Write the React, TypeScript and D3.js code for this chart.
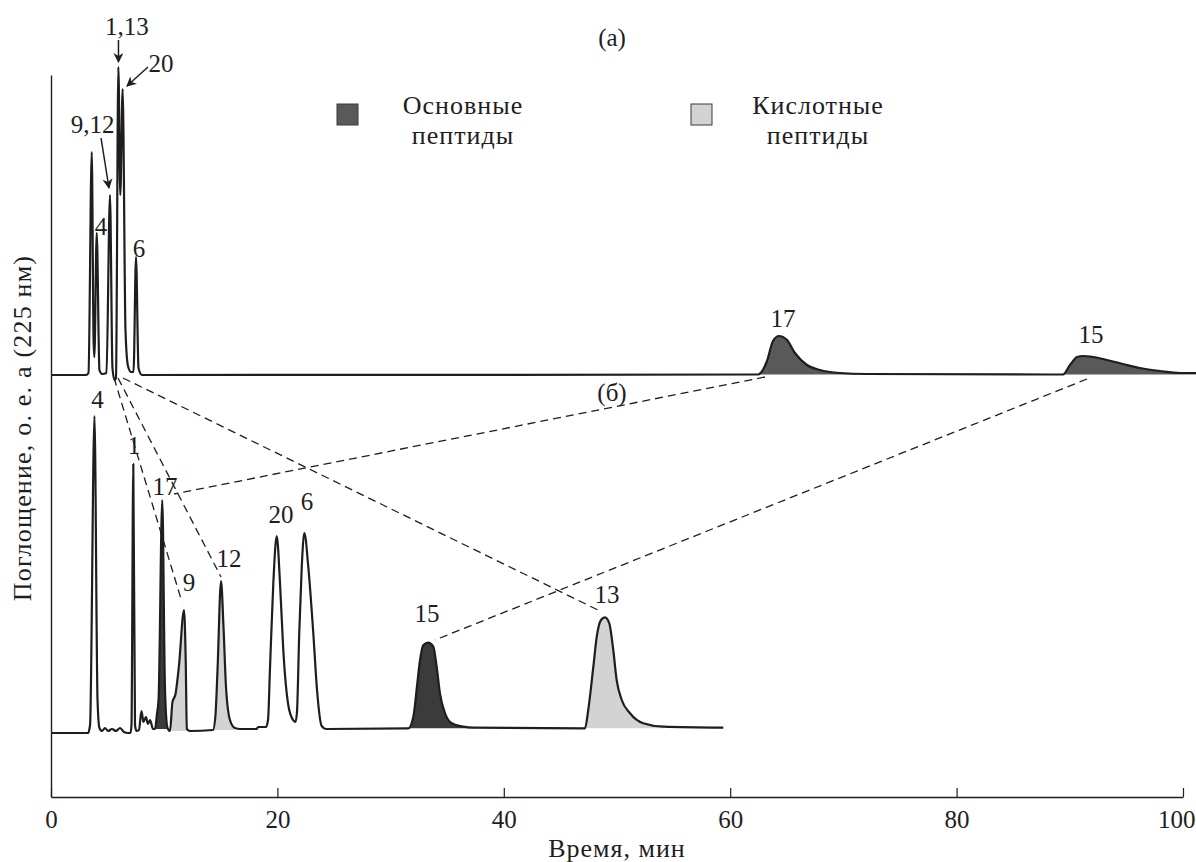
import React, { useEffect, useRef } from 'react';
import * as d3 from 'd3';

const WIDTH = 1196;
const HEIGHT = 862;

// time, min / absorbance above own baseline (rel. units)
const traceA: [number, number][] = [
  [0, 0], [3.09, 0], [3.31, 2], [3.6, 223], [3.76, 35], [3.83, 18], [4.04, 142], [4.28, 5],
  [4.51, 1], [4.9, 2], [5.21, 180], [5.43, 7], [5.61, -5], [5.74, -3], [5.95, 308], [6.12, 180],
  [6.33, 286], [6.58, 45], [6.8, 9], [7.07, 3], [7.29, 3], [7.51, 118], [7.73, 7], [8.04, 0],
  [62.46, 0.5], [63.25, 14], [63.78, 34], [64.31, 39], [65.02, 35], [65.72, 22], [66.78, 10],
  [67.93, 5], [69.7, 2], [72.08, 1], [89.4, 0.5], [90.02, 10], [90.64, 18], [91.17, 19],
  [92.05, 18], [93.29, 15], [94.7, 11], [96.2, 7], [97.97, 4], [99.73, 2], [101.15, 2],
];

const traceB: [number, number][] = [
  [0, 0], [3.27, 0], [3.45, 8], [3.84, 317], [4.11, 33], [4.28, 5], [4.51, 2], [4.77, 5],
  [5.04, 2], [5.39, 4], [5.74, 2], [6.1, 5], [6.45, 1], [6.8, 0], [7.02, 0], [7.11, 8],
  [7.27, 269], [7.42, 8], [7.55, 2], [7.77, 3], [7.99, 22], [8.17, 11], [8.39, 16], [8.57, 9],
  [8.75, 13], [9.01, 4], [9.19, 4], [9.36, 19], [9.5, 33], [9.83, 233], [10.07, 43], [10.29, 5],
  [10.51, 2], [10.73, 31], [11.0, 39], [11.31, 68], [11.75, 123], [11.9, 73], [12.0, 4],
  [12.28, 2], [14.31, 3], [14.53, 18], [14.71, 63], [15.02, 152], [15.24, 106], [15.46, 46],
  [15.81, 13], [16.25, 5], [16.7, 4], [18.17, 4], [18.29, 6], [18.99, 6], [19.17, 13],
  [19.35, 66], [19.64, 150], [19.94, 197], [20.23, 150], [20.52, 83], [20.96, 28], [21.38, 13],
  [21.6, 11], [21.73, 21], [21.93, 100], [22.15, 166], [22.38, 200], [22.73, 166], [23.17, 100],
  [23.5, 43], [23.91, 7], [24.29, 4], [31.56, 4.7], [32.01, 16.3], [32.36, 49.7], [32.6, 73],
  [32.89, 88], [33.33, 90.3], [33.77, 86.3], [34.07, 66.3], [34.36, 39.7], [34.81, 19.7],
  [35.4, 9.7], [36.42, 6.3], [37.31, 5.3], [47.17, 4.7], [47.46, 23], [47.91, 66.3],
  [48.21, 96.3], [48.59, 113], [48.94, 115.7], [49.32, 109.7], [49.67, 83], [49.97, 53],
  [50.42, 33], [51.15, 19.7], [52.32, 9.7], [54.09, 6.3], [59.39, 5.3],
];

// baseline level of each trace on the common scale
const offsetA = 422;
const offsetB = 64;

const xTicks = [0, 20, 40, 60, 80, 100];

// shaded peaks: trace, from, to, kind
const fills: [string, number, number, string][] = [
  ['a', 62.3, 72.5, 'basicA'],
  ['a', 89.3, 101.2, 'basicA'],
  ['b', 9.15, 10.4, 'basic'],
  ['b', 10.5, 12.05, 'acid'],
  ['b', 14.3, 16.4, 'acid'],
  ['b', 31.5, 37.4, 'basic'],
  ['b', 47.1, 54.2, 'acid'],
];

// peak labels: text, time, level
const peakLabels: [string, number, number][] = [
  ['1,13', 6.71, 762], ['20', 9.72, 725], ['9,12', 3.67, 664], ['4', 4.42, 562],
  ['6', 7.77, 540], ['17', 64.66, 470], ['15', 91.87, 454],
  ['4', 4.11, 389], ['1', 7.33, 343], ['17', 10.07, 302], ['9', 12.19, 206],
  ['12', 15.72, 230], ['20', 20.32, 274], ['6', 22.61, 287], ['15', 33.22, 175],
  ['13', 49.12, 194],
];

const panelLabels: [string, number, number][] = [
  ['(а)', 49.56, 751],
  ['(б)', 49.56, 396],
];

// arrows from label to peak: t0, v0, t1, v1
const arrows: [number, number, number, number][] = [
  [5.96, 757, 5.96, 735],
  [8.57, 730, 6.71, 711],
  [4.42, 659, 5.12, 609],
];

// dashed links between the two runs: t0, v0, t1, v1
const links: [number, number, number, number][] = [
  [5.57, 419, 11.57, 195],
  [5.92, 419, 15.02, 220],
  [6.36, 419, 48.5, 186],
  [63.07, 420, 10.87, 303],
  [91.52, 418, 33.92, 157],
];

const colors: Record<string, string> = {
  basicA: '#595959',
  basic: '#3b3b3b',
  acid: '#d3d3d3',
};

const FONT = '"Liberation Serif", "Times New Roman", serif';
const INK = '#1e1e1e';

const App = () => {
  const ref = useRef<SVGSVGElement>(null);

  useEffect(() => {
    const svg = d3.select(ref.current);
    svg.selectAll('*').remove();

    const x = d3.scaleLinear().domain([0, 100]).range([51, 1183]);
    const y = d3.scaleLinear().domain([0, 722]).range([797, 75]);

    // AXES
    const xAxis = svg.append('g')
      .attr('transform', `translate(0, ${y(0)})`)
      .call(d3.axisBottom(x).tickValues(xTicks).tickSizeInner(-9).tickSizeOuter(0).tickPadding(13));
    xAxis.attr('font-family', null).attr('font-size', null);
    xAxis.select('.domain').attr('stroke', INK).attr('stroke-width', 1.4);
    xAxis.selectAll('.tick line').attr('stroke', INK).attr('stroke-width', 1.2);
    xAxis.selectAll('.tick text')
      .attr('fill', INK)
      .style('font-family', FONT)
      .style('font-size', '25px');
    // last label is pushed inside the picture, as in the original
    xAxis.selectAll<SVGTextElement, number>('.tick text')
      .filter(d => d === 100)
      .attr('text-anchor', 'end')
      .attr('x', 12);

    const yAxis = svg.append('g')
      .attr('transform', `translate(${x(0)}, 0)`)
      .call(d3.axisLeft(y).tickValues([]).tickSizeOuter(0));
    yAxis.select('.domain').attr('stroke', INK).attr('stroke-width', 1.4);

    svg.append('text')
      .attr('x', (x(0) + x(100)) / 2)
      .attr('y', 857)
      .attr('text-anchor', 'middle')
      .style('font-family', FONT)
      .style('font-size', '26px')
      .style('letter-spacing', '1px')
      .attr('fill', INK)
      .text('Время, мин');

    svg.append('text')
      .attr('transform', `translate(31, ${(y(0) + y(722)) / 2 - 8}) rotate(-90)`)
      .attr('text-anchor', 'middle')
      .style('font-family', FONT)
      .style('font-size', '26px')
      .style('letter-spacing', '1.2px')
      .attr('fill', INK)
      .text('Поглощение, о. е. а (225 нм)');

    // LINKS
    svg.append('g')
      .selectAll('line')
      .data(links)
      .enter()
      .append('line')
      .attr('x1', d => x(d[0]))
      .attr('y1', d => y(d[1]))
      .attr('x2', d => x(d[2]))
      .attr('y2', d => y(d[3]))
      .attr('stroke', INK)
      .attr('stroke-width', 1.3)
      .attr('stroke-dasharray', '8,5');

    // FILLS
    const traces: Record<string, { pts: [number, number][]; off: number }> = {
      a: { pts: traceA, off: offsetA },
      b: { pts: traceB, off: offsetB },
    };

    fills.forEach(([key, t0, t1, kind]) => {
      const { pts, off } = traces[key];
      const sub = pts.filter(p => p[0] >= t0 && p[0] <= t1);
      const base = d3.min(sub, p => p[1]) as number;
      const area = d3.area<[number, number]>()
        .x(p => x(p[0]))
        .y0(y(off + base))
        .y1(p => y(off + p[1]))
        .curve(d3.curveMonotoneX);
      svg.append('path')
        .attr('d', area(sub))
        .attr('fill', colors[kind]);
    });

    // TRACES
    Object.values(traces).forEach(({ pts, off }) => {
      const line = d3.line<[number, number]>()
        .x(p => x(p[0]))
        .y(p => y(off + p[1]))
        .curve(d3.curveMonotoneX);
      svg.append('path')
        .attr('d', line(pts))
        .attr('fill', 'none')
        .attr('stroke', INK)
        .attr('stroke-width', 2.2)
        .attr('stroke-linejoin', 'round');
    });

    // ARROWS
    svg.append('defs')
      .append('marker')
      .attr('id', 'arrow')
      .attr('viewBox', '0 0 10 10')
      .attr('refX', 9)
      .attr('refY', 5)
      .attr('markerWidth', 10)
      .attr('markerHeight', 10)
      .attr('markerUnits', 'userSpaceOnUse')
      .attr('orient', 'auto')
      .append('path')
      .attr('d', 'M0,0 L10,5 L0,10 L3,5 Z')
      .attr('fill', INK);

    svg.append('g')
      .selectAll('line')
      .data(arrows)
      .enter()
      .append('line')
      .attr('x1', d => x(d[0]))
      .attr('y1', d => y(d[1]))
      .attr('x2', d => x(d[2]))
      .attr('y2', d => y(d[3]))
      .attr('stroke', INK)
      .attr('stroke-width', 1.5)
      .attr('marker-end', 'url(#arrow)');

    // LABELS
    svg.append('g')
      .selectAll('text')
      .data(peakLabels.concat(panelLabels))
      .enter()
      .append('text')
      .attr('x', d => x(d[1]))
      .attr('y', d => y(d[2]))
      .attr('text-anchor', 'middle')
      .style('font-family', FONT)
      .style('font-size', '25px')
      .attr('fill', INK)
      .text(d => d[0]);

    // LEGEND
    const legend = [
      { kind: 'basicA', lines: ['Основные', 'пептиды'], sx: 337, tx: 463 },
      { kind: 'acid', lines: ['Кислотные', 'пептиды'], sx: 691, tx: 818 },
    ];
    legend.forEach(l => {
      svg.append('rect')
        .attr('x', l.sx)
        .attr('y', 104)
        .attr('width', 21)
        .attr('height', 21)
        .attr('fill', colors[l.kind])
        .attr('stroke', '#3a3a3a')
        .attr('stroke-width', 1);
      l.lines.forEach((s, i) => {
        svg.append('text')
          .attr('x', l.tx)
          .attr('y', 114 + i * 30)
          .attr('text-anchor', 'middle')
          .style('font-family', FONT)
          .style('font-size', '26px')
          .style('letter-spacing', '1px')
          .attr('fill', INK)
          .text(s);
      });
    });
  }, []);

  return (
    <svg
      ref={ref}
      width={WIDTH}
      height={HEIGHT}
      style={{ position: 'absolute', left: 0, top: 0, background: '#fff' }}
    />
  );
};

export default App;
